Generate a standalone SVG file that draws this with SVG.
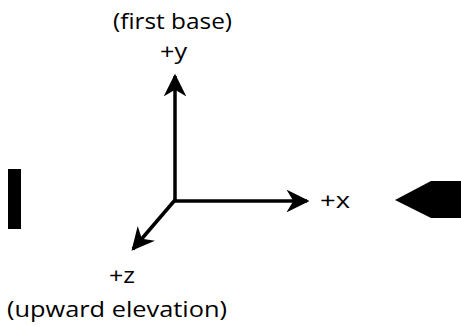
<svg xmlns="http://www.w3.org/2000/svg" width="461" height="327" viewBox="0 0 461 327">
<style>
text{font-family:"Open Sans",Lato,sans-serif;font-size:22px;fill:#000}
.ax{stroke:#000;stroke-width:3.5;fill:none;marker-end:url(#ah)}
</style>
<defs>
<marker id="ah" viewBox="0 0 10 10" refX="9" refY="5" markerWidth="6.5" markerHeight="6.5" markerUnits="strokeWidth" orient="auto">
<path d="M0,0 L10,5 L0,10 L3,5 Z" fill="#000"/>
</marker>
</defs>
<rect width="461" height="327" fill="#fff"/>
<g id="connectors">
<line class="ax" x1="175" y1="201" x2="175" y2="76"/>
<line class="ax" x1="173" y1="201" x2="307" y2="201"/>
<line class="ax" x1="175" y1="200" x2="133" y2="249"/>
</g>
<g id="left-bar"><rect x="8" y="169" width="13" height="60" fill="#000"/></g>
<g id="right-arrow"><path d="M395,200 L431,181 L461,181 L461,218 L431,218 Z" fill="#000"/></g>
<g id="label-y"><text x="113" y="29" textLength="119" lengthAdjust="spacingAndGlyphs">(first base)</text><text x="160" y="59" textLength="27" lengthAdjust="spacingAndGlyphs">+y</text></g>
<g id="label-x"><text x="320" y="208" textLength="30" lengthAdjust="spacingAndGlyphs">+x</text></g>
<g id="label-z"><text x="109" y="283" textLength="26" lengthAdjust="spacingAndGlyphs">+z</text><text x="7" y="317" textLength="220" lengthAdjust="spacingAndGlyphs">(upward elevation)</text></g>
</svg>
